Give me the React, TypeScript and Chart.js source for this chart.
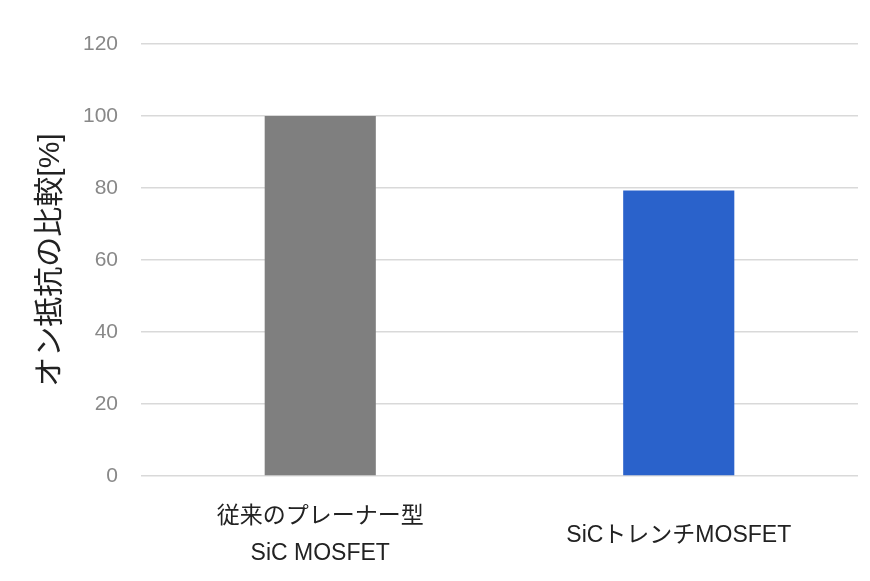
import { useEffect, useRef } from 'react';
import { Chart, registerables } from 'chart.js';

Chart.register(...registerables);

const categories: string[][] = [['従来のプレーナー型', 'SiC MOSFET'], ['SiCトレンチMOSFET']];
const values: number[] = [100, 79.3];
const barColors: string[] = ['#7f7f7f', '#2a62cb'];
const yTicks: number[] = [0, 20, 40, 60, 80, 100, 120];
const yTitle = 'オン抵抗の比較[%]';

const FONT = "'Liberation Sans', 'Noto Sans CJK JP', sans-serif";

export default function App() {
  const chartRef = useRef<HTMLCanvasElement>(null);
  const chartInstance = useRef<Chart | null>(null);

  useEffect(() => {
    document.body.style.margin = '0';
    if (!chartRef.current) return;
    const ctx = chartRef.current.getContext('2d');
    if (!ctx) return;

    if (chartInstance.current) {
      chartInstance.current.destroy();
    }

    chartInstance.current = new Chart(ctx, {
      type: 'bar',
      data: {
        labels: categories,
        datasets: [{
          data: values,
          backgroundColor: barColors,
          borderWidth: 0,
          categoryPercentage: 1,
          barPercentage: 0.31
        }]
      },
      options: {
        responsive: false,
        animation: false,
        layout: {
          padding: { left: 0, right: 12, top: 44, bottom: 0 }
        },
        plugins: {
          legend: { display: false },
          tooltip: { enabled: false }
        },
        scales: {
          x: {
            afterFit: (axis) => {
              axis.height = 105;
            },
            grid: { display: false },
            border: { display: false },
            ticks: {
              color: '#222',
              crossAlign: 'center',
              padding: 33,
              font: { family: FONT, size: 23, lineHeight: 1.6 }
            }
          },
          y: {
            min: 0,
            max: 120,
            afterFit: (axis) => {
              axis.width = 141;
            },
            afterBuildTicks: (axis) => {
              axis.ticks = yTicks.map(v => ({ value: v }));
            },
            grid: { color: '#d9d9d9', lineWidth: 1.5, drawTicks: false },
            border: { display: false },
            ticks: {
              color: '#888',
              padding: 23,
              font: { family: FONT, size: 21 }
            },
            title: {
              display: true,
              text: yTitle,
              color: '#222',
              padding: { top: 33, bottom: 0 },
              font: { family: FONT, size: 30 }
            }
          }
        }
      }
    });

    return () => {
      if (chartInstance.current) {
        chartInstance.current.destroy();
        chartInstance.current = null;
      }
    };
  }, []);

  return (
    <div style={{ width: 870, height: 581, background: '#fff' }}>
      <canvas ref={chartRef} width={870} height={581}></canvas>
    </div>
  );
}
